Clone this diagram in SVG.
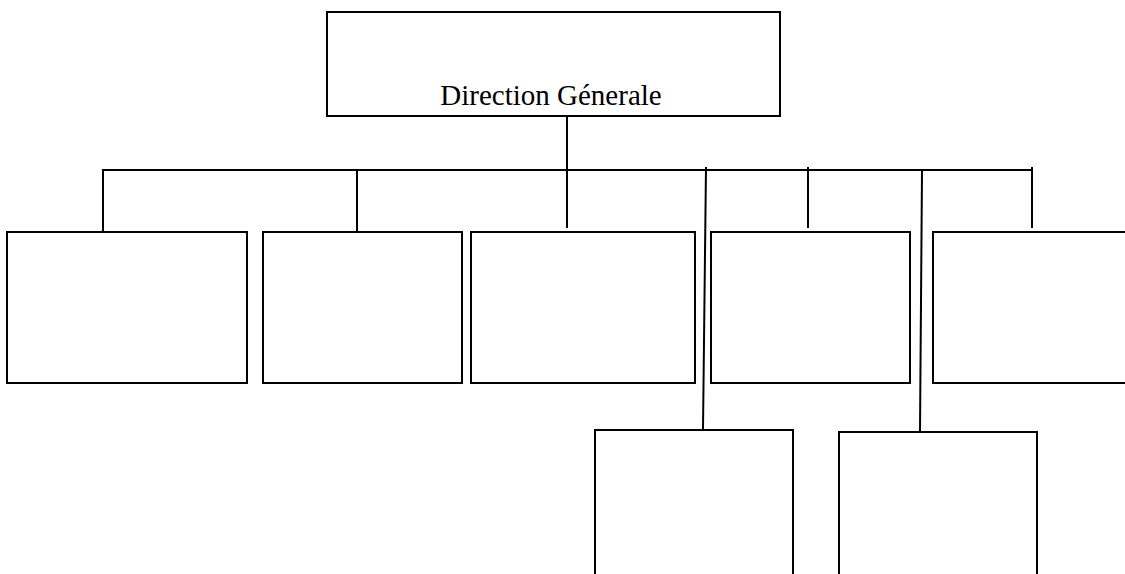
<svg xmlns="http://www.w3.org/2000/svg" width="1125" height="574" viewBox="0 0 1125 574">
<style>
.box{fill:#fff;stroke:#000;stroke-width:2}
.ln{fill:none;stroke:#000;stroke-width:2}
.lbl{font-size:29px;fill:#000}
</style>
<rect width="1125" height="574" fill="#fff"/>
<g id="connectors">
<line class="ln" x1="567" y1="116" x2="567" y2="228"/>
<polyline class="ln" points="103,232 103,170 1032,170"/>
<line class="ln" x1="357" y1="170" x2="357" y2="232"/>
<line class="ln" x1="808" y1="167" x2="808" y2="228"/>
<line class="ln" x1="1032" y1="167" x2="1032" y2="228"/>
<line class="ln" x1="706" y1="167" x2="703" y2="429"/>
<line class="ln" x1="922" y1="171" x2="920" y2="432"/>
</g>
<g id="n0"><rect class="box" x="327" y="12" width="453" height="104"/><text class="lbl" font-family="'Liberation Serif', 'Times New Roman', 'DejaVu Serif', serif" x="551" y="105" text-anchor="middle">Direction Génerale</text></g>
<g id="n1"><rect class="box" x="7" y="232" width="240" height="151"/></g>
<g id="n2"><rect class="box" x="263" y="232" width="199" height="151"/></g>
<g id="n3"><rect class="box" x="471" y="232" width="224" height="151"/></g>
<g id="n4"><rect class="box" x="711" y="232" width="199" height="151"/></g>
<g id="n5"><rect class="box" x="933" y="232" width="200" height="151"/></g>
<g id="n6"><rect class="box" x="595" y="430" width="198" height="160"/></g>
<g id="n7"><rect class="box" x="839" y="432" width="198" height="160"/></g>
</svg>
